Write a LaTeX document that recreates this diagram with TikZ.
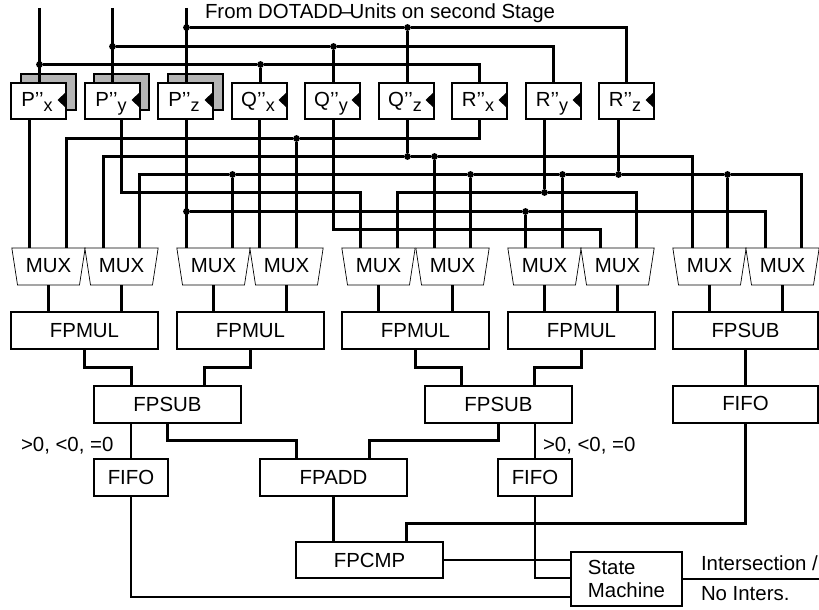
\documentclass[tikz,border=0pt]{standalone}
\usepackage{fontspec}
\setmainfont{Liberation Sans}
\usetikzlibrary{shapes.geometric}
\tikzset{
  x=1pt,y=-1pt,
  every node/.style={font=\fontsize{20.4}{22.7}\selectfont,inner sep=0pt,outer sep=0pt},
  wthick/.style={line width=2.6pt,line cap=butt,line join=miter},
  wthin/.style={line width=1.6pt,line join=miter},
  unitbox/.style={draw,line width=1.6pt,fill=white,minimum height=37pt,minimum width=147pt},
  smallbox/.style={unitbox,minimum width=74pt},
  regbox/.style={draw,line width=1.6pt,fill=white,minimum height=36pt,minimum width=55pt,text height=14.6pt,text depth=3pt},
  shadowbox/.style={draw,line width=1.6pt,fill=black!29,minimum height=36pt,minimum width=55pt},
  muxbox/.style={draw,line width=0.7pt,fill=white,trapezium,trapezium left angle=75,trapezium right angle=75,shape border rotate=180,trapezium stretches=true,minimum width=73.5pt,minimum height=37pt},
  jdot/.style={circle,fill=black,minimum size=6.8pt},
  lbl/.style={anchor=base west}
}
\newcommand{\subx}[1]{\raisebox{-5pt}{\fontsize{18}{20}\selectfont #1}\kern3pt}
\begin{document}
\begin{tikzpicture}
\useasboundingbox (0,0) rectangle (819,610);
\fill[white] (0,0) rectangle (819,610);
% shadows
\node[shadowbox] (sx) at (48.5,92) {};
\node[shadowbox] (sy) at (121.5,92) {};
\node[shadowbox] (sz) at (195.5,92) {};
% registers
\foreach \n/\cx/\t/\s in {px/38.5/P/x,py/112.5/P/y,pz/185.5/P/z,qx/259.5/Q/x,qy/332.5/Q/y,qz/406.5/Q/z,rx/479.5/R/x,ry/553.5/R/y,rz/626.5/R/z}{
  \node[regbox] (\n) at (\cx,101) {\t{'}{'}\subx{\s}};
  \fill ([yshift=-7pt]\n.east) -- ([xshift=-8.5pt,yshift=1pt]\n.east) -- ([yshift=9pt]\n.east) -- cycle;
}
% muxes
\foreach \n/\cx in {m1/48.5,m2/121.5,m3/213.5,m4/286.5,m5/378.5,m6/452.5,m7/544.5,m8/617.5,m9/709.5,m10/782.5}{
  \node[muxbox] (\n) at (\cx,266.5) {\raisebox{1.5pt}{MUX}};
}
% units
\node[unitbox] (f1) at (84.5,330.5) {FPMUL};
\node[unitbox] (f2) at (250.5,330.5) {FPMUL};
\node[unitbox] (f3) at (415.5,330.5) {FPMUL};
\node[unitbox] (f4) at (581.5,330.5) {FPMUL};
\node[unitbox,minimum width=145pt] (f5) at (745.5,330.5) {FPSUB};
\node[unitbox] (s1) at (167.5,404.5) {FPSUB};
\node[unitbox] (s2) at (498.5,404.5) {FPSUB};
\node[unitbox,minimum width=145pt] (s3) at (745.5,404.5) {\raisebox{1.5pt}{FIFO}};
\node[smallbox] (ff1) at (131,477.5) {FIFO};
\node[unitbox] (add) at (333.5,477.5) {FPADD};
\node[smallbox] (ff2) at (535,477.5) {FIFO};
\node[unitbox,minimum height=36pt] (cmp) at (369.5,560) {FPCMP};
\node[draw,line width=2.6pt,fill=white,minimum width=111pt,minimum height=54pt,align=left] (sm) at (626.5,579) {State\\Machine};
% labels
\node[lbl] (top) at (205,18.3) {From DOTADD\kern-2pt--\kern-2.5pt Units on second Stage};
\node[lbl] (g1) at (21,451) {>0, <0, =0};
\node[lbl] (g2) at (543,451) {>0, <0, =0};
\node[lbl] (o1) at (701,570) {Intersection /};
\node[lbl] (o2) at (701,600.7) {No Inters.};
% named points
\coordinate (in1) at (39.5,8);
\coordinate (in2) at (112.5,8);
\coordinate (in3) at (186.5,8);
\node[jdot] (d1) at (39.5,64.5) {};
\node[jdot] (d2) at (112.5,46.5) {};
\node[jdot] (d3) at (186.5,27.5) {};
\node[jdot] (d4) at (260.5,64.5) {};
\node[jdot] (d5) at (333.5,46.5) {};
\node[jdot] (d6) at (407.5,27.5) {};
\node[jdot] (dA) at (296.5,138.5) {};
\node[jdot] (dB1) at (407.5,156.5) {};
\node[jdot] (dB2) at (434.5,156.5) {};
\node[jdot] (dC1) at (232.5,174.5) {};
\node[jdot] (dC2) at (470.5,174.5) {};
\node[jdot] (dC3) at (562.5,174.5) {};
\node[jdot] (dC4) at (618.5,174.5) {};
\node[jdot] (dC5) at (727.5,174.5) {};
\node[jdot] (dD) at (544.5,192.5) {};
\node[jdot] (dE1) at (186.5,211.5) {};
\node[jdot] (dE2) at (525.5,211.5) {};
\coordinate (cD) at (121.5,192.5);
\coordinate (cF) at (333.5,229.5);
\coordinate (xa) at (29.5,0);
\coordinate (j1) at (131.5,367.5);
\coordinate (j2) at (204.5,367.5);
\coordinate (j3) at (461.5,367.5);
\coordinate (j4) at (534.5,367.5);
\coordinate (j5) at (296.5,440.5);
\coordinate (j6) at (369.5,440.5);
\coordinate (j7) at (571,597);
\coordinate (j8) at (571,578);
\coordinate (j9) at (406.5,523.5);
\coordinate (out) at (819,579);
% upper wiring
\begin{scope}[wthick]
\draw (in1) -- (px.north -| in1);
\draw (in2) -- (py.north -| in2);
\draw (in3) -- (pz.north -| in3);
\draw (d3) -- (d6) -| (rz.north);
\draw (d6) -- (qz.north -| d6);
\draw (d2) -- (d5) -| (ry.north);
\draw (d5) -- (qy.north -| d5);
\draw (d1) -- (d4) -| (rx.north);
\draw (d4) -- (qx.north -| d4);
\draw (px.south -| xa) -- (m1.north -| xa);
\draw (rx.south) |- (dA) -| (m1.north -| 66.5,0);
\draw (dA) -- (m4.north -| dA);
\draw (m2.north -| 103.5,0) |- (dB1) -- (dB2) -| (m9.north -| 692.5,0);
\draw (dB1) -- (qz.south -| dB1);
\draw (dB2) -- (m6.north -| dB2);
\draw (m2.north -| 139.5,0) |- (dC1) -- (dC2) -- (dC3) -- (dC4) -- (dC5) -| (m10.north -| 801.5,0);
\draw (dC1) -- (m3.north -| dC1);
\draw (dC2) -- (m6.north -| dC2);
\draw (dC3) -- (m7.north -| dC3);
\draw (dC4) -- (rz.south -| dC4);
\draw (dC5) -- (m9.north -| dC5);
\draw (py.south -| cD) -- (cD) -| (m5.north -| 360.5,0);
\draw (m5.north -| 397.5,0) |- (dD) -| (m8.north -| 636.5,0);
\draw (dD) -- (ry.south -| dD);
\draw (pz.south -| dE1) -- (m3.north -| dE1);
\draw (dE1) -- (dE2) -| (m10.north -| 765.5,0);
\draw (dE2) -- (m7.north -| dE2);
\draw (qy.south -| cF) -- (cF) -| (m8.north -| 600.5,0);
\draw (qx.south) -- (m4.north -| qx.south);
% mux outputs
\draw (m1.south) -- (f1.north -| m1.south);
\draw (m2.south) -- (f1.north -| m2.south);
\draw (m3.south) -- (f2.north -| m3.south);
\draw (m4.south) -- (f2.north -| m4.south);
\draw (m5.south) -- (f3.north -| m5.south);
\draw (m6.south) -- (f3.north -| m6.south);
\draw (m7.south) -- (f4.north -| m7.south);
\draw (m8.south) -- (f4.north -| m8.south);
\draw (m9.south) -- (f5.north -| m9.south);
\draw (m10.south) -- (f5.north -| m10.south);
% lower thick wiring
\draw (f1.south) |- (j1) -- (s1.north -| j1);
\draw (f2.south) |- (j2) -- (s1.north -| j2);
\draw (f3.south) |- (j3) -- (s2.north -| j3);
\draw (f4.south) |- (j4) -- (s2.north -| j4);
\draw (f5.south) -- (s3.north);
\draw (s1.south) |- (j5) -- (add.north -| j5);
\draw (s2.south) |- (j6) -- (add.north -| j6);
\draw (add.south) -- (cmp.north -| add.south);
\draw (s3.south) |- (j9) -- (cmp.north -| j9);
\end{scope}
% thin wiring
\begin{scope}[wthin]
\draw (s1.south -| ff1.north) -- (ff1.north);
\draw (s2.south -| ff2.north) -- (ff2.north);
\draw (ff1.south) |- (j7);
\draw (ff2.south) |- (j8);
\draw (cmp.east) -- (cmp.east -| sm.west);
\draw (sm.east |- out) -- (out);
\end{scope}
\end{tikzpicture}
\end{document}
